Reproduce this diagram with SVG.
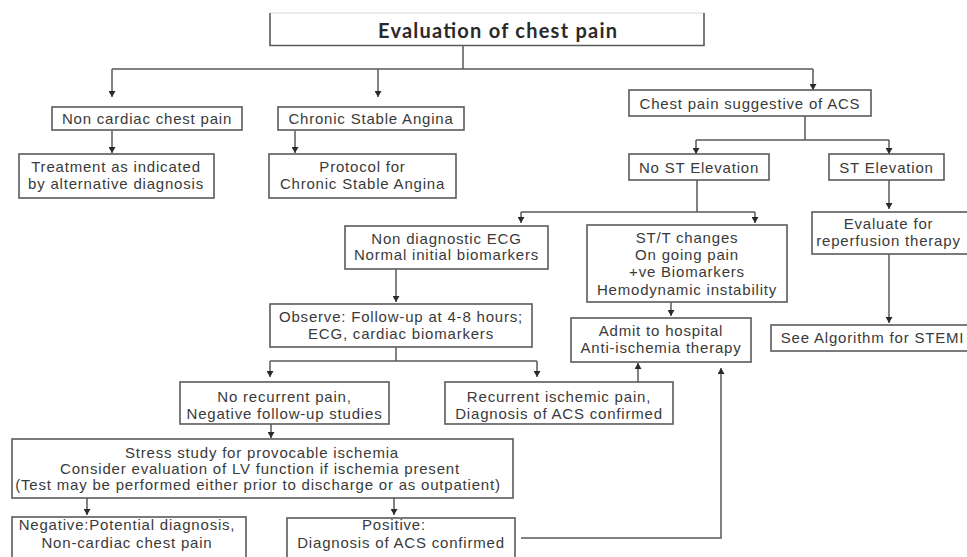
<svg xmlns="http://www.w3.org/2000/svg" width="967" height="557" viewBox="0 0 967 557">
  <style>
    .box { fill: #ffffff; stroke: #5a5a5a; stroke-width: 1.6; }
    .lbl { font-family: "Liberation Sans", Arial, sans-serif; font-size: 15px; letter-spacing: 0.8px; fill: #3a3a3a; text-anchor: middle; }
    .title { font-family: Lato, "Open Sans", sans-serif; font-size: 20px; font-weight: 700; fill: #2a2a2a; text-anchor: middle; }
    .wire { fill: none; stroke: #5a5a5a; stroke-width: 1.5; }
    .arr { marker-end: url(#tip); }
  </style>
  <defs>
    <marker id="tip" markerUnits="userSpaceOnUse" markerWidth="7" markerHeight="7" refX="6" refY="3.5" orient="auto">
      <path d="M0,0 L6,3.5 L0,7 z" fill="#2a2a2a"/>
    </marker>
  </defs>
  <rect width="967" height="557" fill="#ffffff"/>

  <!-- connectors -->
  <g id="connectors">
    <path class="wire" d="M463,46 V69 M112,69 H813"/>
    <path class="wire arr" d="M112,69 V97"/>
    <path class="wire arr" d="M378,69 V97"/>
    <path class="wire arr" d="M813,69 V90"/>
    <path class="wire arr" d="M112,131 V153"/>
    <path class="wire arr" d="M295,131 V153"/>
    <path class="wire" d="M805,116 V140 M696,140 H889"/>
    <path class="wire arr" d="M696,140 V154"/>
    <path class="wire arr" d="M889,140 V154"/>
    <path class="wire" d="M697,180 V212 M521,212 H755"/>
    <path class="wire arr" d="M521,212 V223"/>
    <path class="wire arr" d="M755,212 V223"/>
    <path class="wire arr" d="M889,180 V209"/>
    <path class="wire arr" d="M889,254 V323"/>
    <path class="wire arr" d="M671,302 V316"/>
    <path class="wire arr" d="M396,269 V302"/>
    <path class="wire" d="M396,347 V361 M270,361 H537"/>
    <path class="wire arr" d="M270,361 V377"/>
    <path class="wire arr" d="M537,361 V377"/>
    <path class="wire arr" d="M638,382 V363"/>
    <path class="wire arr" d="M521,538 H721 V368"/>
    <path class="wire arr" d="M271,424 V438"/>
    <path class="wire arr" d="M87,498 V515"/>
    <path class="wire arr" d="M394,498 V515"/>
    <path class="wire arr" d="M103,517 V529"/>
  </g>

  <!-- nodes -->
  <g id="title">
    <path d="M270,13 H704" fill="none" stroke="#d8d8d8" stroke-width="1.2"/>
    <path d="M270,13 V45.5 H704 V13" fill="none" stroke="#5a5a5a" stroke-width="1.6"/>
    <text class="title" x="497.5" y="38" textLength="239" lengthAdjust="spacing">Evaluation of chest pain</text>
  </g>
  <g id="non-cardiac">
    <rect class="box" x="52" y="107" width="190" height="23"/>
    <text class="lbl" x="147" y="123.5">Non cardiac chest pain</text>
  </g>
  <g id="chronic-stable">
    <rect class="box" x="278" y="107" width="186" height="23"/>
    <text class="lbl" x="371" y="123.5">Chronic Stable Angina</text>
  </g>
  <g id="treatment">
    <rect class="box" x="19" y="154" width="195" height="44"/>
    <text class="lbl" x="116" y="172">Treatment as indicated</text>
    <text class="lbl" x="116" y="189">by alternative diagnosis</text>
  </g>
  <g id="protocol">
    <rect class="box" x="269" y="154" width="187" height="44"/>
    <text class="lbl" x="362.5" y="172">Protocol for</text>
    <text class="lbl" x="362.5" y="189">Chronic Stable Angina</text>
  </g>
  <g id="suggestive-acs">
    <rect class="box" x="629" y="90" width="242" height="26"/>
    <text class="lbl" x="750" y="108.5">Chest pain suggestive of ACS</text>
  </g>
  <g id="no-st-elevation">
    <rect class="box" x="629" y="154" width="140" height="26"/>
    <text class="lbl" x="699" y="173">No ST Elevation</text>
  </g>
  <g id="st-elevation">
    <rect class="box" x="829" y="154" width="115" height="26"/>
    <text class="lbl" x="886.5" y="173">ST Elevation</text>
  </g>
  <g id="non-diagnostic">
    <rect class="box" x="345" y="226" width="203" height="43"/>
    <text class="lbl" x="446.5" y="243.5">Non diagnostic ECG</text>
    <text class="lbl" x="446.5" y="260">Normal initial biomarkers</text>
  </g>
  <g id="st-t-changes">
    <rect class="box" x="587" y="225" width="200" height="77"/>
    <text class="lbl" x="687" y="243">ST/T changes</text>
    <text class="lbl" x="687" y="260">On going pain</text>
    <text class="lbl" x="687" y="277">+ve Biomarkers</text>
    <text class="lbl" x="687" y="294.5">Hemodynamic instability</text>
  </g>
  <g id="reperfusion">
    <rect class="box" x="812" y="212" width="170" height="42"/>
    <text class="lbl" x="888.5" y="229">Evaluate for</text>
    <text class="lbl" x="888.5" y="245.5">reperfusion therapy</text>
  </g>
  <g id="stemi">
    <rect class="box" x="771" y="325" width="210" height="26"/>
    <text class="lbl" x="872.5" y="343">See Algorithm for STEMI</text>
  </g>
  <g id="admit">
    <rect class="box" x="571" y="318" width="180" height="44"/>
    <text class="lbl" x="661" y="336">Admit to hospital</text>
    <text class="lbl" x="661" y="353">Anti-ischemia therapy</text>
  </g>
  <g id="observe">
    <rect class="box" x="270" y="304" width="262" height="43"/>
    <text class="lbl" x="401" y="321.5">Observe: Follow-up at 4-8 hours;</text>
    <text class="lbl" x="401" y="338.5">ECG, cardiac biomarkers</text>
  </g>
  <g id="no-recurrent">
    <rect class="box" x="180" y="382" width="209" height="42"/>
    <text class="lbl" x="284.5" y="401.5">No recurrent pain,</text>
    <text class="lbl" x="284.5" y="418.5">Negative follow-up studies</text>
  </g>
  <g id="recurrent">
    <rect class="box" x="445" y="382" width="228" height="42"/>
    <text class="lbl" x="559" y="401.5">Recurrent ischemic pain,</text>
    <text class="lbl" x="559" y="418.5">Diagnosis of ACS confirmed</text>
  </g>
  <g id="stress-study">
    <rect class="box" x="12" y="439" width="501" height="59"/>
    <text class="lbl" x="262" y="457.5">Stress study for provocable ischemia</text>
    <text class="lbl" x="260" y="473.5">Consider evaluation of LV function if ischemia present</text>
    <text class="lbl" x="258" y="489.5">(Test may be performed either prior to discharge or as outpatient)</text>
  </g>
  <g id="negative">
    <rect class="box" x="12" y="517" width="234" height="60"/>
    <text class="lbl" x="127" y="530">Negative:Potential diagnosis,</text>
    <text class="lbl" x="127" y="548">Non-cardiac chest pain</text>
  </g>
  <g id="positive">
    <rect class="box" x="287" y="518" width="228" height="60"/>
    <text class="lbl" x="394" y="530">Positive:</text>
    <text class="lbl" x="401" y="548">Diagnosis of ACS confirmed</text>
  </g>
</svg>
